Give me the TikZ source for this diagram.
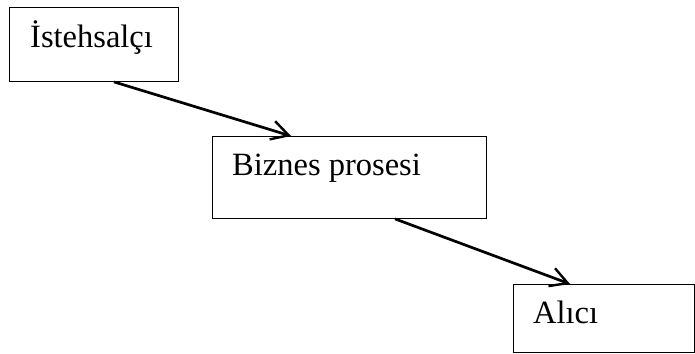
\documentclass[tikz,border=0pt]{standalone}
\usepackage{fontspec}
\setmainfont{Liberation Serif}
\usetikzlibrary{arrows.meta}
\begin{document}
\begin{tikzpicture}[x=1pt,y=-1pt,
  box/.style={draw=black, line width=0.9pt, anchor=north west, inner sep=0pt},
  txt/.style={anchor=base west, inner sep=0pt, font=\fontsize{32.5pt}{38pt}\selectfont},
  flow/.style={line width=2.7pt, -{Straight Barb[length=17pt, width=19pt, line width=2.4pt]}}]
  \useasboundingbox (0,0) rectangle (695,353);
  % boxes
  \node[box, minimum width=169pt, minimum height=74pt] (prod) at (9,7) {};
  \node[box, minimum width=274pt, minimum height=82pt] (proc) at (212,136) {};
  \node[box, minimum width=181pt, minimum height=68pt] (buyer) at (513,284) {};
  % labels
  \node[txt] (prodt) at (30,48) {İstehsalçı};
  \node[txt] (proct) at (232,175) {Biznes prosesi};
  \node[txt] (buyert) at (533,323) {Alıcı};
  % connector end points on the box edges
  \coordinate (a1) at ([xshift=105pt]prod.south west);
  \coordinate (a2) at ([xshift=79pt]proc.north west);
  \coordinate (b1) at ([xshift=183pt]proc.south west);
  \coordinate (b2) at ([xshift=57pt]buyer.north west);
  % connectors
  \draw[flow] (a1) -- (a2);
  \draw[flow] (b1) -- (b2);
\end{tikzpicture}
\end{document}
